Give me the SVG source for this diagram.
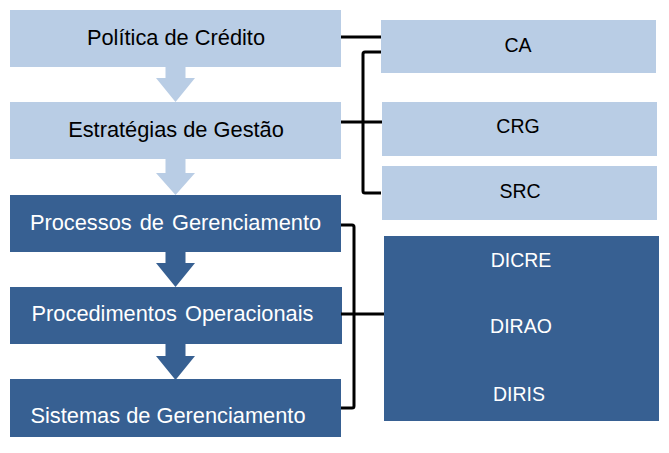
<svg xmlns="http://www.w3.org/2000/svg" width="669" height="453" viewBox="0 0 669 453">
<style>
.light{fill:#B9CDE5}
.dark{fill:#376092}
.t{font-family:"Liberation Sans",Arial,sans-serif;font-size:21.8px;text-anchor:middle}
.tr{font-family:"Liberation Sans",Arial,sans-serif;font-size:19.5px;text-anchor:middle}
.bk{fill:#000}
.wh{fill:#fff}
.con{fill:none;stroke:#000;stroke-width:3;stroke-linejoin:round}
</style>
<rect width="669" height="453" fill="#fff"/>
<g id="arrows">
<path class="light" d="M165.5 66 H185.5 V78 H195 L175.5 102 L156 78 H165.5 Z"/>
<path class="light" d="M165.5 159 H185.5 V173 H195 L175.5 195 L156 173 H165.5 Z"/>
<path class="dark" d="M165.5 251 H185.5 V263 H195 L175.5 287 L156 263 H165.5 Z"/>
<path class="dark" d="M165.5 343 H185.5 V356 H195 L175.5 380 L156 356 H165.5 Z"/>
</g>
<g id="politica"><rect class="light" x="10" y="10" width="331" height="57"/><text class="t bk" x="176" y="45">Política de Crédito</text></g>
<g id="estrategias"><rect class="light" x="10" y="102" width="331" height="57"/><text class="t bk" x="176" y="137">Estratégias de Gestão</text></g>
<g id="processos"><rect class="dark" x="10" y="195" width="331" height="57"/><text class="t wh" x="175.5" y="230" word-spacing="2">Processos de Gerenciamento</text></g>
<g id="procedimentos"><rect class="dark" x="10" y="287" width="332" height="57"/><text class="t wh" x="172.5" y="321" word-spacing="2">Procedimentos Operacionais</text></g>
<g id="sistemas"><rect class="dark" x="10" y="379" width="331" height="58"/><text class="t wh" x="168" y="423">Sistemas de Gerenciamento</text></g>
<g id="ca"><rect class="light" x="381" y="20" width="275" height="53"/><text class="tr bk" x="518" y="52">CA</text></g>
<g id="crg"><rect class="light" x="382" y="102" width="275" height="54"/><text class="tr bk" x="518" y="133">CRG</text></g>
<g id="src"><rect class="light" x="382" y="166" width="275" height="54"/><text class="tr bk" x="520" y="198">SRC</text></g>
<g id="dir"><rect class="dark" x="384" y="236" width="275" height="185"/>
<text class="tr wh" x="521" y="267">DICRE</text>
<text class="tr wh" x="521" y="333">DIRAO</text>
<text class="tr wh" x="519" y="401">DIRIS</text></g>
<g id="connectors">
<path class="con" d="M341 37 H381"/>
<path class="con" d="M381 52 H365 Q363 52 363 54 V191 Q363 193 365 193 H381"/>
<path class="con" d="M341 122 H382"/>
<path class="con" d="M341 225 H352 Q354 225 354 227 V406 Q354 408 352 408 H341"/>
<path class="con" d="M341 314 H384"/>
</g>
</svg>
